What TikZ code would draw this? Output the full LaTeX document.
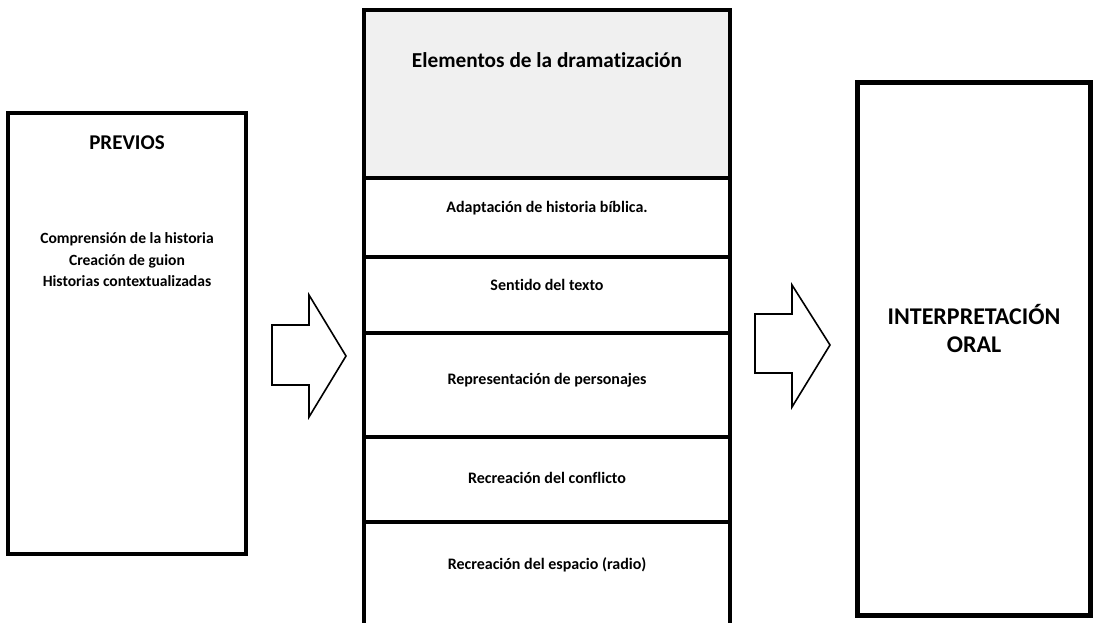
\documentclass[tikz,border=0pt]{standalone}
\usepackage{fontspec}
\setmainfont{Carlito}[Ligatures=NoCommon]
\usepackage{tikz}
\usetikzlibrary{positioning}

\begin{document}
\begin{tikzpicture}[x=1pt,y=-1pt]
\tikzset{font={\bfseries}}
\tikzset{box/.style={draw,line width=4pt,minimum width=#1,inner sep=0pt}}
\tikzset{cell/.style={draw,line width=4pt,minimum width=366pt,minimum height=#1,inner sep=0pt,outer sep=0pt}}
\tikzset{blockarrow/.style={draw,line width=1.6pt,line join=miter,fill=white}}
\clip (0,0) rectangle (1093,623);
\fill[white] (0,0) rectangle (1093,623);

%Previos
\node[box=238pt,minimum height=441pt] (previos) at (127,333.5) {};
\node[font={\bfseries\fontsize{21}{25}\selectfont}] (previostitle) at (127,143) {PREVIOS};
\node[font={\bfseries\fontsize{15.6}{21.5}\selectfont},align=center] (previoslist) at (127,260)
  {Comprensión de la historia\\Creación de guion\\Historias contextualizadas};

%Elementos
\node[cell=168pt,fill=black!6] (elem) at (547,94) {};
\node[cell=79pt,below=0pt of elem] (adap) {};
\node[cell=76pt,below=0pt of adap] (sent) {};
\node[cell=104pt,below=0pt of sent] (repr) {};
\node[cell=85pt,below=0pt of repr] (conf) {};
\node[cell=130pt,below=0pt of conf] (espa) {};
\node[font={\bfseries\fontsize{21.3}{25}\selectfont}] (elemtext) at (547,60) {Elementos de la dramatización};
\tikzset{font={\bfseries\fontsize{16}{19}\selectfont}}
\node (adaptext) at (547,208) {Adaptación de historia bíblica.};
\node (senttext) at (547,285) {Sentido del texto};
\node (reprtext) at (547,380) {Representación de personajes};
\node (conftext) at (547,478) {Recreación del conflicto};
\node (espatext) at (547,565) {Recreación del espacio (radio)};

%Interpretacion
\node[box=233pt,minimum height=532pt,line width=5pt] (oral) at (973.5,349) {};
\node[font={\bfseries\fontsize{24}{28}\selectfont},align=center] (oraltext) at (974,329)
  {INTERPRETACIÓN\\ORAL};

%Arrows
\draw[blockarrow] (272,325) -- (309,325) -- (309,295) -- (346,356) -- (309,417) -- (309,385) -- (272,385) -- cycle;
\draw[blockarrow] (755,314) -- (792,314) -- (792,285) -- (830,345) -- (792,407) -- (792,373) -- (755,373) -- cycle;

\end{tikzpicture}
\end{document}
